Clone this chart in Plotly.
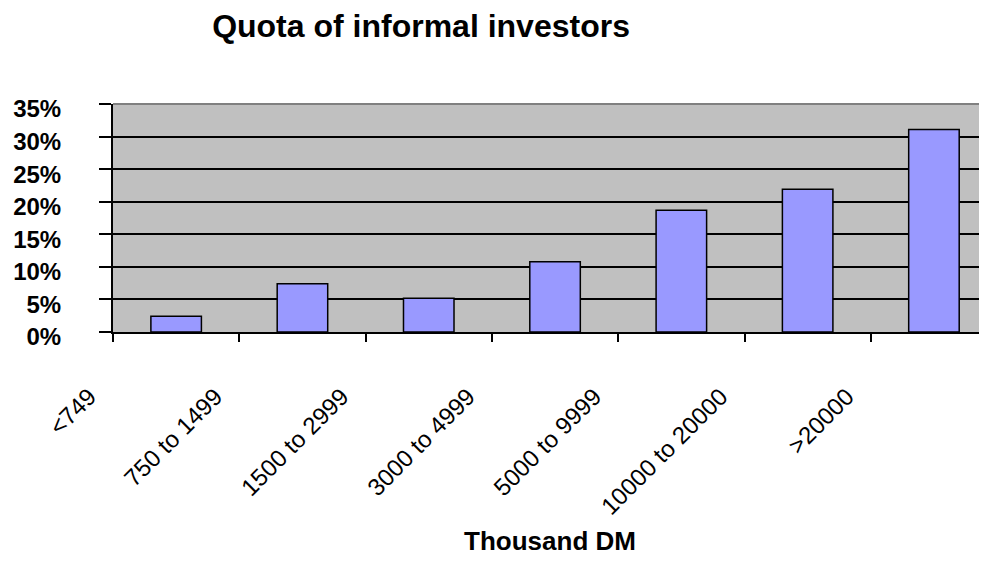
import plotly.graph_objects as go

categories = ["<749", "750 to 1499", "1500 to 2999", "3000 to 4999",
              "5000 to 9999", "10000 to 20000", ">20000"]
quota = [0.024, 0.074, 0.052, 0.108, 0.187, 0.219, 0.311]
y_ticks = [0, 0.05, 0.10, 0.15, 0.20, 0.25, 0.30, 0.35]

FONT = "Liberation Sans, Arial, sans-serif"

fig = go.Figure(go.Bar(
    x=categories, y=quota,
    marker=dict(color="#9999FF", line=dict(color="black", width=1.5)),
))

fig.update_layout(
    width=979, height=548,
    margin=dict(l=105, r=0, t=96, b=224, autoexpand=False),
    paper_bgcolor="white", plot_bgcolor="#C0C0C0",
    bargap=0.6,
    showlegend=False,
    title=dict(text="<b>Quota of informal investors</b>", x=0.4219, xanchor="center",
               xref="container", y=0.967, yanchor="middle", yref="container",
               font=dict(family=FONT, size=32, color="black")),
    font=dict(family=FONT, color="black"),
)

fig.update_xaxes(
    type="category", range=[-0.5, 6.42], automargin=False,
    tickson="boundaries", ticks="outside", ticklen=8, tickcolor="black", tickwidth=1.5,
    tickangle=-45, tickfont=dict(family=FONT, size=24, color="black"),
    ticklabelstandoff=39, ticklabelshift=-87,
    showline=True, linecolor="black", linewidth=2, showgrid=False,
    title=dict(text="<b>Thousand DM</b>", font=dict(family=FONT, size=26, color="black"),
               standoff=15),
)
fig.update_yaxes(
    range=[0, 0.35], tickvals=y_ticks, tickformat=".0%", automargin=False,
    ticks="outside", ticklen=12, tickcolor="black", tickwidth=1.5,
    tickfont=dict(family=FONT, size=24, color="black", weight="bold"),
    ticklabelstandoff=33, ticklabelshift=5,
    showline=True, linecolor="black", linewidth=2,
    showgrid=True, gridcolor="black", gridwidth=1.5, zeroline=False,
)

fig.add_shape(type="line", xref="paper", yref="paper", x0=0, x1=1, y0=1, y1=1,
              line=dict(color="#808080", width=2))

fig.write_html("out.html")
